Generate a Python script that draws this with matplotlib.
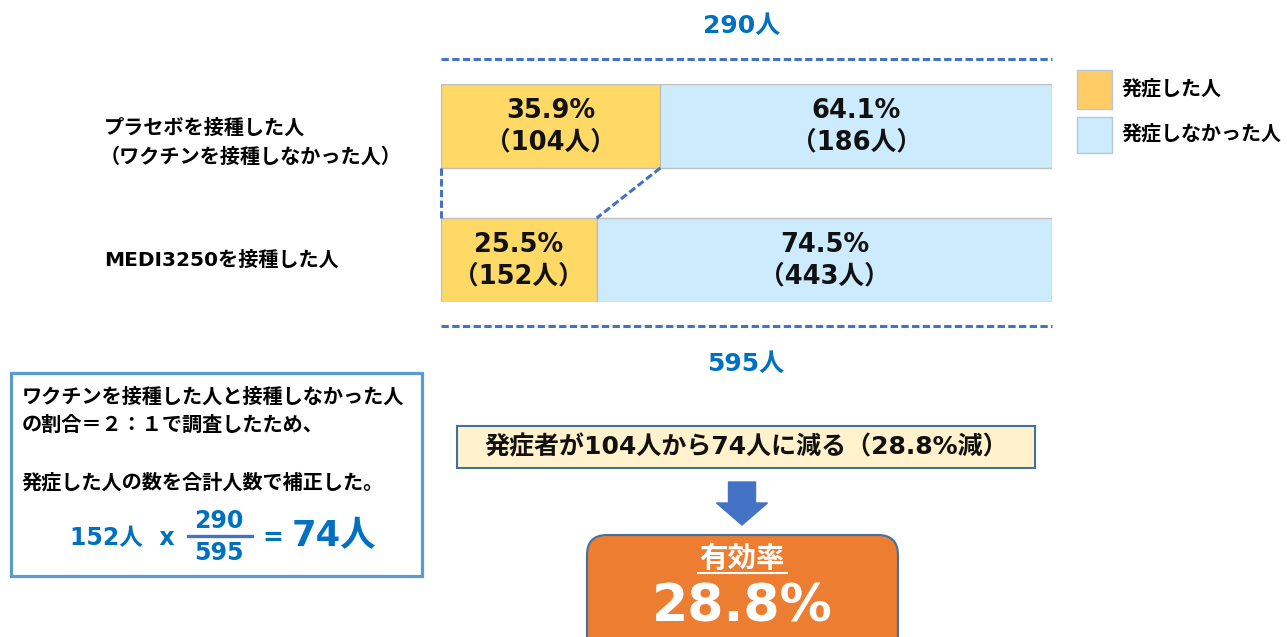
import numpy as np
import matplotlib
matplotlib.use("Agg")
import matplotlib.pyplot as plt
from matplotlib.patches import Rectangle, FancyBboxPatch, FancyArrow

plt.rcParams['font.family'] = ['DejaVu Sans', 'Noto Sans CJK JP']
plt.rcParams['font.weight'] = 'bold'

# data
groups = ["プラセボを接種した人\n（ワクチンを接種しなかった人）", "MEDI3250を接種した人"]
onset_pct = [35.9, 25.5]
no_onset_pct = [64.1, 74.5]
onset_n = [104, 152]
no_onset_n = [186, 443]
totals = [290, 595]
legend_labels = ["発症した人", "発症しなかった人"]
corrected_n = 74
efficacy = 28.8

note_lines = ["ワクチンを接種した人と接種しなかった人",
              "の割合＝２：１で調査したため、",
              "",
              "発症した人の数を合計人数で補正した。"]

c_onset = "#FFD966"
c_no = "#CCEBFD"
c_blue = "#0070C0"
c_dash = "#4472C4"

W, H = 1287, 637
fig = plt.figure(figsize=(W / 100, H / 100), dpi=100)

# background axes in pixel units for the annotations
bg = fig.add_axes([0, 0, 1, 1])
bg.set_xlim(0, W)
bg.set_ylim(H, 0)
bg.axis("off")

# stacked bars
ax = fig.add_axes([441 / W, 1 - 302 / H, 611 / W, 218 / H])
ypos = np.array([1, 0])
h = 84 / 134
ax.barh(ypos, onset_pct, height=h, color=c_onset, edgecolor="#BFBFBF", linewidth=1)
ax.barh(ypos, no_onset_pct, left=onset_pct, height=h, color=c_no, edgecolor="#BFBFBF", linewidth=1)
ax.set_xlim(0, 100)
ax.set_ylim(-h / 2, 1 + h / 2)
ax.axis("off")

for y, p, n, q, m in zip(ypos, onset_pct, onset_n, no_onset_pct, no_onset_n):
    for xc, pct, num in [(p / 2, p, n), (p + q / 2, q, m)]:
        ax.annotate(f"{pct}%", (xc, y), xytext=(0, 11), textcoords="offset points",
                    ha="center", va="center", fontsize=18.5, fontweight="bold", color="#111111")
        ax.annotate(f"（{num}人）", (xc, y), xytext=(0, -11.5), textcoords="offset points",
                    ha="center", va="center", fontsize=18.5, fontweight="bold", color="#111111")

# connectors between the onset segments
dash_kw = dict(color=c_dash, lw=2.2, dashes=(2.4, 1.1), clip_on=False)
ax.plot([0, 0], [1 - h / 2, h / 2], **dash_kw)
ax.plot([onset_pct[0], onset_pct[1]], [1 - h / 2, h / 2], **dash_kw)

# total lines
bg.plot([441, 1052], [59, 59], color=c_dash, lw=2.2, dashes=(2.4, 1.1))
bg.plot([441, 1052], [326, 326], color=c_dash, lw=2.2, dashes=(2.4, 1.1))
bg.text(742, 26, f"{totals[0]}人", ha="center", va="center", fontsize=18, color=c_blue, fontweight="bold")
bg.text(746, 364, f"{totals[1]}人", ha="center", va="center", fontsize=18, color=c_blue, fontweight="bold")

# group labels
first, second = groups[0].split("\n")
bg.text(104, 128, first, ha="left", va="center", fontsize=14.5, fontweight="bold")
bg.text(100, 157, second, ha="left", va="center", fontsize=14.5, fontweight="bold")
bg.text(104, 260, groups[1], ha="left", va="center", fontsize=14.5, fontweight="bold")

# legend
for (y0, y1), col, lab in zip([(70, 109), (117, 153)], ["#FFCC66", "#CCEBFD"], legend_labels):
    bg.add_patch(Rectangle((1077, y0), 35, y1 - y0, facecolor=col, edgecolor="#B4C7DC", lw=1))
    bg.text(1122, (y0 + y1) / 2 - 1, lab, ha="left", va="center", fontsize=14.4, fontweight="bold")

# left note box
bg.add_patch(Rectangle((11, 373), 411, 203, facecolor="white", edgecolor="#5B9BD5", lw=2.3))
for i, line in enumerate(note_lines):
    bg.text(22, 397 + i * 28.5, line, ha="left", va="center", fontsize=14.5, fontweight="bold")
bg.text(70, 538, f"{onset_n[1]}人  x", ha="left", va="center", fontsize=17, color=c_blue, fontweight="bold")
bg.text(219, 521, f"{totals[0]}", ha="center", va="center", fontsize=17, color=c_blue, fontweight="bold")
bg.plot([188, 252], [536, 536], color=c_dash, lw=2.4)
bg.text(219, 553, f"{totals[1]}", ha="center", va="center", fontsize=17, color=c_blue, fontweight="bold")
bg.text(262, 538, "=", ha="left", va="center", fontsize=18, color=c_blue, fontweight="bold")
bg.text(292, 536, f"{corrected_n}人", ha="left", va="center", fontsize=25.5, color=c_blue, fontweight="bold")

# result box
bg.add_patch(Rectangle((457, 426), 578, 42, facecolor="#FFF2CC", edgecolor="#41719C", lw=1.5))
bg.text(746, 447, f"発症者が{onset_n[0]}人から{corrected_n}人に減る（{efficacy}%減）",
        ha="center", va="center", fontsize=18, fontweight="bold", color="#111111")

bg.add_patch(FancyArrow(742, 482, 0, 43, width=27, head_width=51, head_length=22,
                        length_includes_head=True, color=c_dash))

bg.add_patch(FancyBboxPatch((587, 535), 311, 130, boxstyle="round,pad=0,rounding_size=20",
                            facecolor="#ED7D31", edgecolor="#41719C", lw=1.5))
bg.text(742, 559, "有効率", ha="center", va="center", fontsize=20.5, color="white", fontweight="bold")
bg.plot([698, 787], [573, 573], color="white", lw=1.5)
bg.text(742, 608, f"{efficacy}%", ha="center", va="center", fontsize=37.5, color="white", fontweight="bold")

fig.savefig("out.png", dpi=100)
